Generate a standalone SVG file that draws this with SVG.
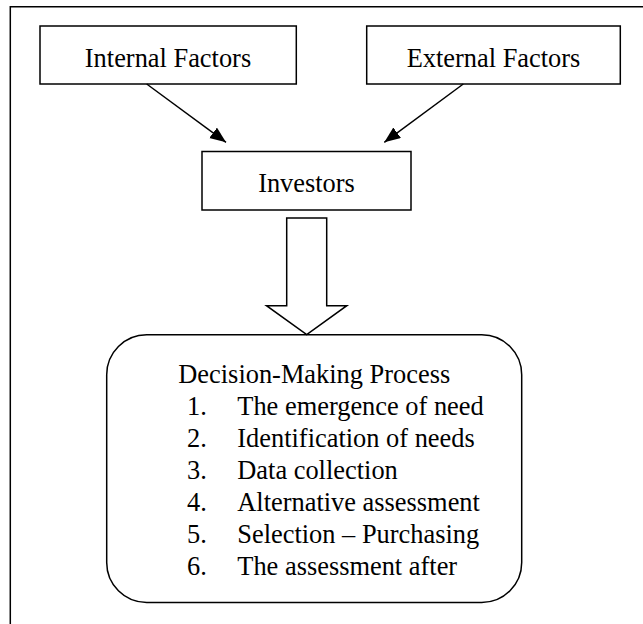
<svg xmlns="http://www.w3.org/2000/svg" width="643" height="624" viewBox="0 0 643 624">
<style>
.box{fill:#fff;stroke:#000;stroke-width:1.5}
.t{font-family:"Liberation Serif","Times New Roman",serif;font-size:26.4px;fill:#000}
.c{text-anchor:middle}
.ln{stroke:#000;stroke-width:1.5;fill:none}
</style>
<defs>
<marker id="ah" markerUnits="userSpaceOnUse" markerWidth="17" markerHeight="14" refX="16" refY="6.5" orient="auto">
<path d="M0,0 L16,6.5 L0,13 z" fill="#000"/>
</marker>
</defs>
<rect width="643" height="624" fill="#fff"/>
<g id="frame">
<path class="ln" d="M10.3,624 L10.3,6.7 L643,6.7" stroke-width="2"/>
</g>
<g id="internal">
<rect class="box" x="40" y="26" width="256.3" height="58"/>
<text class="t c" x="168" y="66.5">Internal Factors</text>
</g>
<g id="external">
<rect class="box" x="366.7" y="26" width="253.6" height="58"/>
<text class="t c" x="493.5" y="66.5">External Factors</text>
</g>
<g id="investors">
<rect class="box" x="202" y="151.5" width="209" height="58.5"/>
<text class="t c" x="306.5" y="192">Investors</text>
</g>
<g id="process">
<rect class="box" x="106.7" y="334.7" width="415" height="267.8" rx="40" ry="40"/>
<text class="t" x="178.3" y="383">Decision-Making Process</text>
<text class="t" x="187" y="415">1.</text><text class="t" x="237.3" y="415">The emergence of need</text>
<text class="t" x="187" y="447">2.</text><text class="t" x="237.3" y="447">Identification of needs</text>
<text class="t" x="187" y="479">3.</text><text class="t" x="237.3" y="479">Data collection</text>
<text class="t" x="187" y="511">4.</text><text class="t" x="237.3" y="511">Alternative assessment</text>
<text class="t" x="187" y="543">5.</text><text class="t" x="237.3" y="543">Selection – Purchasing</text>
<text class="t" x="187" y="575">6.</text><text class="t" x="237.3" y="575">The assessment after</text>
</g>
<g id="connectors">
<line class="ln" x1="146.7" y1="84" x2="226" y2="142.3" marker-end="url(#ah)"/>
<line class="ln" x1="463.3" y1="84" x2="384.3" y2="142.3" marker-end="url(#ah)"/>
<path class="box" d="M286.7,218 L326.7,218 L326.7,305.7 L346.8,305.7 L306.7,334.5 L266.5,305.7 L286.7,305.7 Z"/>
</g>
</svg>
